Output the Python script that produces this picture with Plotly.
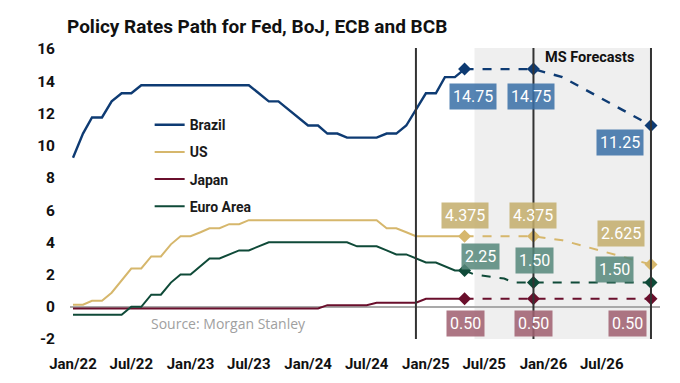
import plotly.graph_objects as go
import pandas as pd

# ---------------- data ----------------
hist_months = pd.date_range("2022-01-01", "2025-05-01", freq="MS")

brazil_hist = [9.25, 10.75, 11.75, 11.75, 12.75, 13.25, 13.25, 13.75, 13.75, 13.75, 13.75, 13.75,
               13.75, 13.75, 13.75, 13.75, 13.75, 13.75, 13.75, 13.25, 12.75, 12.75, 12.25, 11.75,
               11.25, 11.25, 10.75, 10.75, 10.50, 10.50, 10.50, 10.50, 10.75, 10.75, 11.25, 12.25,
               13.25, 13.25, 14.25, 14.25, 14.75]
us_hist = [0.125, 0.125, 0.375, 0.375, 0.875, 1.625, 2.375, 2.375, 3.125, 3.125, 3.875, 4.375,
           4.375, 4.625, 4.875, 4.875, 5.125, 5.125, 5.375, 5.375, 5.375, 5.375, 5.375, 5.375,
           5.375, 5.375, 5.375, 5.375, 5.375, 5.375, 5.375, 5.375, 4.875, 4.875, 4.625, 4.375,
           4.375, 4.375, 4.375, 4.375, 4.375]
japan_hist = [-0.1] * 26 + [0.1, 0.1, 0.1, 0.1, 0.1, 0.25, 0.25, 0.25, 0.25, 0.25,
                            0.5, 0.5, 0.5, 0.5, 0.5]
euro_hist = [-0.5, -0.5, -0.5, -0.5, -0.5, -0.5, 0.0, 0.0, 0.75, 0.75, 1.5, 2.0,
             2.0, 2.5, 3.0, 3.0, 3.25, 3.5, 3.5, 3.75, 4.0, 4.0, 4.0, 4.0,
             4.0, 4.0, 4.0, 4.0, 4.0, 3.75, 3.75, 3.75, 3.5, 3.25, 3.25, 3.0,
             2.75, 2.75, 2.5, 2.25, 2.25]

brazil_fc_dates = ["2025-05-01", "2025-12-01", "2026-03-01", "2026-12-01"]
brazil_fc = [14.75, 14.75, 14.25, 11.25]
us_fc_dates = ["2025-05-01", "2025-12-01", "2026-03-01", "2026-12-01"]
us_fc = [4.375, 4.375, 4.125, 2.625]
japan_fc_dates = ["2025-05-01", "2025-12-01", "2026-12-01"]
japan_fc = [0.5, 0.5, 0.5]
euro_fc_dates = ["2025-05-01", "2025-06-01", "2025-09-01", "2025-10-01", "2025-12-01", "2026-12-01"]
euro_fc = [2.25, 2.0, 1.75, 1.5, 1.5, 1.5]

marker_dates = ["2025-05-01", "2025-12-01", "2026-12-01"]
brazil_marks = [14.75, 14.75, 11.25]
us_marks = [4.375, 4.375, 2.625]
japan_marks = [0.5, 0.5, 0.5]
euro_marks = [2.25, 1.50, 1.50]

brazil_labels = ["14.75", "14.75", "11.25"]
us_labels = ["4.375", "4.375", "2.625"]
japan_labels = ["0.50", "0.50", "0.50"]
euro_labels = ["2.25", "1.50", "1.50"]

divider_dates = ["2024-12-01", "2025-12-01", "2026-12-01"]
forecast_start = "2025-06-01"
forecast_end = "2026-12-01"

tick_dates = ["2022-01-01", "2022-07-01", "2023-01-01", "2023-07-01", "2024-01-01",
              "2024-07-01", "2025-01-01", "2025-07-01", "2026-01-01", "2026-07-01"]
tick_text = ["Jan/22", "Jul/22", "Jan/23", "Jul/23", "Jan/24",
             "Jul/24", "Jan/25", "Jul/25", "Jan/26", "Jul/26"]
y_ticks = [-2, 0, 2, 4, 6, 8, 10, 12, 14, 16]
y_tick_text = ["-2", "0", "2", "4", "6", "8", "10", "12", "14", "16"]

# ---------------- style ----------------
FONT = "Roboto, sans-serif"
C_BR, C_US, C_JP, C_EU = "#0e3b73", "#d6b76c", "#6a0f2c", "#0f4a38"
B_BR, B_US, B_JP, B_EU = ("rgba(58,112,166,0.86)", "rgba(196,173,108,0.86)",
                          "rgba(160,96,112,0.86)", "rgba(86,136,124,0.86)")

fig = go.Figure()

series = [
    ("Brazil", brazil_hist, brazil_fc_dates, brazil_fc, brazil_marks, C_BR, 2.4),
    ("US", us_hist, us_fc_dates, us_fc, us_marks, C_US, 2),
    ("Japan", japan_hist, japan_fc_dates, japan_fc, japan_marks, C_JP, 2),
    ("Euro Area", euro_hist, euro_fc_dates, euro_fc, euro_marks, C_EU, 2),
]
for name, hist, fcd, fcv, marks, col, w in series:
    fig.add_trace(go.Scatter(x=hist_months, y=hist, mode="lines", name=name,
                             legendgroup=name, line=dict(color=col, width=w)))
    fig.add_trace(go.Scatter(x=pd.to_datetime(fcd), y=fcv, mode="lines", showlegend=False,
                             legendgroup=name, line=dict(color=col, width=w, dash="dash")))
    fig.add_trace(go.Scatter(x=pd.to_datetime(marker_dates), y=marks, mode="markers",
                             showlegend=False, legendgroup=name,
                             marker=dict(symbol="diamond", size=10, color=col)))

# value boxes
label_sets = [
    (brazil_marks, brazil_labels, B_BR, [(8, -27), (-2, -27), (-31, -17)]),
    (us_marks, us_labels, B_US, [(0, 21), (0, 21), (-30, 31)]),
    (euro_marks, euro_labels, B_EU, [(16, 14), (1, 22), (-36, 13)]),
    (japan_marks, japan_labels, B_JP, [(1, -25), (0, -25), (-23, -25)]),
]
for vals, labs, bg, offs in label_sets:
    for d, v, t, (dx, dy) in zip(marker_dates, vals, labs, offs):
        fig.add_annotation(x=d, y=v, text=t, showarrow=False, xshift=dx, yshift=dy,
                           bgcolor=bg, borderpad=3,
                           font=dict(family=FONT, size=16, color="white"))

# forecast shading & dividers
fig.add_shape(type="rect", xref="x", yref="paper", x0=forecast_start, x1=forecast_end,
              y0=0, y1=1, fillcolor="#efefef", line=dict(width=0), layer="below")
for d in divider_dates:
    fig.add_shape(type="line", xref="x", yref="paper", x0=d, x1=d, y0=0, y1=1,
                  line=dict(color="#333333", width=2), layer="above")

fig.add_annotation(x=0.881, y=1.0, xref="paper", yref="paper", text="<b>MS Forecasts</b>",
                   showarrow=False, xanchor="center", yanchor="top", yshift=1,
                   font=dict(family=FONT, size=14.5, color="#111111"))
fig.add_annotation(x=0.134, y=0.052, xref="paper", yref="paper", text="Source: Morgan Stanley",
                   showarrow=False, xanchor="left", yanchor="middle",
                   font=dict(family="Open Sans, sans-serif", size=14, color="#a0a0a0"))

fig.update_layout(
    width=680, height=383,
    margin=dict(l=62, r=28, t=40, b=52),
    paper_bgcolor="white", plot_bgcolor="white",
    title=dict(text="<b>Policy Rates Path for Fed, BoJ, ECB and BCB</b>", x=0.0868, xanchor="left",
               y=0.951, yanchor="middle",
               font=dict(family=FONT, size=19, color="#111111")),
    legend=dict(x=0.135, y=0.79, xanchor="left", yanchor="top", bgcolor="rgba(0,0,0,0)",
                tracegroupgap=6, font=dict(family=FONT, size=14, color="#1a1a1a", weight="bold"),
                itemwidth=30),
    showlegend=True,
)
fig.update_xaxes(type="date", range=["2021-12-22 16:00", "2026-12-29"], showgrid=False,
                 tickmode="array", tickvals=tick_dates, ticktext=tick_text, ticks="",
                 showline=False, zeroline=False, ticklabelstandoff=14,
                 tickfont=dict(family=FONT, size=15, color="#111111", weight="bold"))
fig.update_yaxes(range=[-2, 16.06], showgrid=False, tickmode="array",
                 tickvals=y_ticks, ticktext=y_tick_text, ticks="", showline=False,
                 zeroline=True, zerolinecolor="#a9a9a9", zerolinewidth=2,
                 ticklabelstandoff=14,
                 tickfont=dict(family=FONT, size=15.5, color="#111111", weight="bold"))

fig.write_html("out.html")
